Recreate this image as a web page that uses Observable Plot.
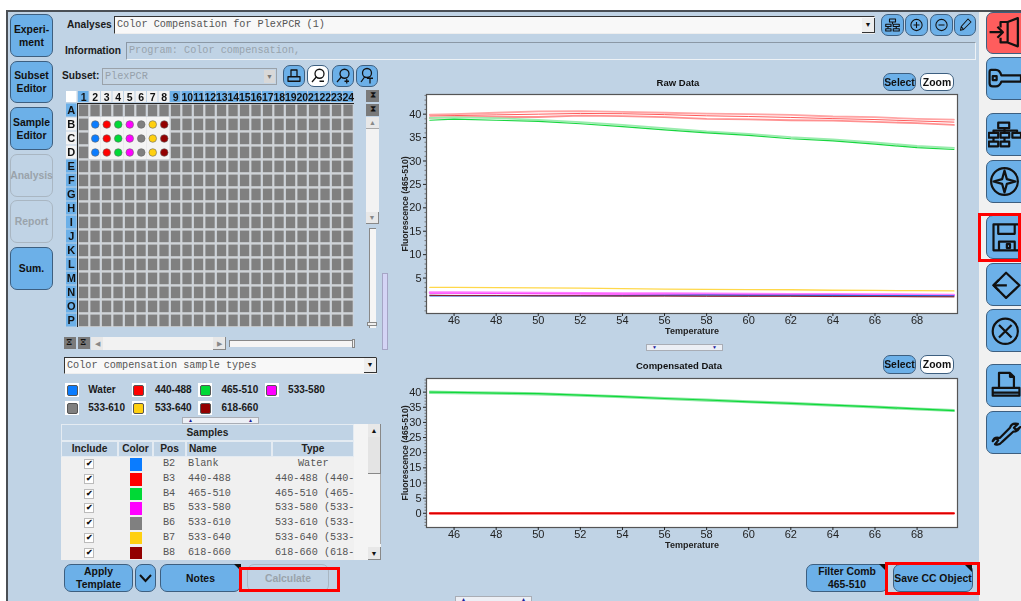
<!DOCTYPE html>
<html><head><meta charset="utf-8">
<script src="https://cdn.jsdelivr.net/npm/d3@7"></script>
<script src="https://cdn.jsdelivr.net/npm/@observablehq/plot@0.6"></script>
<style>
html,body{margin:0;padding:0;width:1021px;height:601px;overflow:hidden;background:#fff}
#app{position:absolute;left:0;top:0;width:1021px;height:601px;overflow:hidden;font-family:"Liberation Sans",Arial,sans-serif;filter:blur(.3px)}
.a{position:absolute;box-sizing:border-box}
.btn{position:absolute;box-sizing:border-box;background:#6cb0e8;border:1.5px solid #3d5f80;border-radius:7px;color:#111;font-weight:bold;font-size:10.4px;line-height:13px;text-align:center;display:flex;align-items:center;justify-content:center;white-space:nowrap}
.off{background:#c0d3e5;border-color:#a9b6c2;color:#9aa3ab}
.lbl{position:absolute;font-weight:bold;font-size:10.2px;color:#1a1a1a;white-space:nowrap}
.mono{font-family:"Liberation Mono",monospace;font-size:10.2px;color:#555;white-space:pre}
.inp{position:absolute;box-sizing:border-box;background:#f8f8f8;border-top:1.5px solid #333;border-left:1.5px solid #333;border-right:1px solid #eee;border-bottom:1px solid #eee;padding-left:2px;line-height:15px}
.arrow{position:absolute;box-sizing:border-box;background:#eee;border-right:1.5px solid #333;border-bottom:1.5px solid #333;color:#111;font-size:7px;text-align:center;line-height:13px}
.red{position:absolute;box-sizing:border-box;border:3px solid #f00;pointer-events:none;z-index:5}
.grip{position:absolute;box-sizing:border-box;background:#eceff5;border:1px solid #a9adb5;color:#1c1c9c;font-size:5px;line-height:5px;display:flex;justify-content:space-between;padding:0 5px;overflow:hidden}
.svgi svg{display:block}
</style></head><body><div id="app"></div>
<script>
// ---------- chart data ----------
const temperature = [44.85,46,48,50,52,54,56,58,60,62,64,66,68,69.75];
const rawRedTop   = [39.9,40.0,40.3,40.6,40.65,40.5,40.3,40.1,40.0,39.85,39.5,39.35,39.0,38.85];
const rawRedMid   = [39.6,39.7,39.85,40.0,40.15,40.1,39.9,39.65,39.5,39.3,39.05,38.85,38.55,38.3];
const rawRedLow   = [39.2,39.35,39.4,39.4,39.7,39.6,39.35,39.0,38.9,38.7,38.6,38.35,38.1,37.7];
const rawGreenTop = [39.2,39.3,39.15,38.8,38.3,37.7,37.0,36.3,35.8,35.1,34.6,33.95,33.2,32.8];
const rawGreenLow = [38.7,38.95,38.7,38.45,37.95,37.35,36.65,36.0,35.45,34.75,34.3,33.6,32.85,32.45];
const rawYellow   = [3.0,3.0,2.95,2.9,2.85,2.75,2.65,2.6,2.55,2.5,2.4,2.35,2.3,2.25];
const rawMagenta  = [1.9,1.9,1.85,1.8,1.75,1.7,1.7,1.65,1.6,1.55,1.55,1.5,1.45,1.4];
const rawGray     = [1.35,1.3,1.3,1.25,1.25,1.2,1.2,1.2,1.15,1.15,1.1,1.1,1.05,1.0];
const rawDarkRed  = [1.3,1.25,1.25,1.2,1.2,1.15,1.15,1.1,1.1,1.1,1.05,1.05,1.0,1.0];
const rawBlue     = [1.2,1.2,1.2,1.2,1.2,1.25,1.3,1.35,1.3,1.3,1.3,1.25,1.25,1.2];
const compGreenTop = [40.2,40.1,39.9,39.7,39.2,38.7,38.1,37.6,37.0,36.5,35.9,35.3,34.6,34.1];
const compGreenMid = [40.0,39.9,39.7,39.5,39.0,38.5,37.9,37.4,36.8,36.3,35.7,35.1,34.45,33.9];
const compGreenLow = [39.7,39.6,39.4,39.2,38.8,38.25,37.7,37.15,36.6,36.05,35.45,34.85,34.2,33.7];
const compRedLow  = [-0.35,-0.35,-0.35,-0.3,-0.3,-0.3,-0.3,-0.3,-0.3,-0.3,-0.3,-0.3,-0.3,-0.3];
const compRed     = [0,0,0,0,0,0,0,0,0,0,0,0,0,0];
const compDarkRed = [0,0,0,0,0,0,0,0,0,0,0,0,0,0];
const xTicks = [46,48,50,52,54,56,58,60,62,64,66,68];
const rawYTicks = [5,10,15,20,25,30,35,40];
const compYTicks = [0,5,10,15,20,25,30,35,40];
const rawMinor = [-2,-1,0,1,2,3,4,6,7,8,9,11,12,13,14,16,17,18,19,21,22,23,24,26,27,28,29,31,32,33,34,36,37,38,39,41,42,43,44];
const compMinor = [-4,-3,-2,-1,1,2,3,4,6,7,8,9,11,12,13,14,16,17,18,19,21,22,23,24,26,27,28,29,31,32,33,34,36,37,38,39,41,42,43,44];

const plateColumns = ["",...d3.range(1,25).map(String)];
const plateRows = ["","A","B","C","D","E","F","G","H","I","J","K","L","M","N","O","P"];
const usedColumns = ["2","3","4","5","6","7","8"];
const usedRows = ["B","C","D"];
const typeNames = ["Water","440-488","465-510","533-580","533-610","533-640","618-660"];
const typeColors = ["#0a7cff","#ff0000","#00d936","#ff00ff","#808080","#ffd010","#930000"];
const samplePos = ["B2","B3","B4","B5","B6","B7","B8"];
const sampleName = ["Blank","440-488","465-510","533-580","533-610","533-640","618-660"];
const sampleType = ["Water","440-488 (440-","465-510 (465-","533-580 (533-","533-610 (533-","533-640 (533-","618-660 (618-"];

// ---------- helpers ----------
const app = document.getElementById("app");
function el(html){const t=document.createElement("template");t.innerHTML=html.trim();const n=t.content.firstChild;app.appendChild(n);return n;}
function box(x,y,w,h,css="",cls="a",txt=""){return el(`<div class="${cls}" style="left:${x}px;top:${y}px;width:${w}px;height:${h}px;${css}">${txt}</div>`);}
function btn(x,y,w,h,txt,off,css=""){return box(x,y,w,h,css,"btn"+(off?" off":""),txt);}
function tag(x,y,w,h){box(x,y,w,h,"background:#111;clip-path:polygon(0 0,100% 0,100% 100%);");}
function lbl(x,y,txt,css=""){return el(`<div class="lbl" style="left:${x}px;top:${y}px;${css}">${txt}</div>`);}
const S=(vb,body,sw=1.6)=>`<svg class="i" viewBox="0 0 ${vb} ${vb}" width="100%" height="100%" fill="none" stroke="#111" stroke-width="${sw}" stroke-linejoin="round">${body}</svg>`;
const icons={
 exit:S(42,'<path d="M25 7 L38 2 V38 L25 33 Z M25 7 H16 V14 M16 27 V33 H25"/><path d="M2 20 H18 M12 13 L19 20 L12 27"/>',2.8),
 key:S(42,'<path d="M4 10 Q2 10 2 13 V27 Q2 31 6 31 H10 Q15 31 17 25 H42 V17 H17 Q15 10 10 10 Z"/><rect x="6" y="18" width="5" height="5"/>',2.8),
 net:S(42,'<rect x="13" y="6" width="14" height="7"/><rect x="1" y="19" width="12" height="6"/><rect x="16" y="19" width="11" height="6"/><rect x="31" y="19" width="11" height="6"/><rect x="1" y="30" width="12" height="6"/><rect x="16" y="30" width="11" height="6"/><path d="M21 13V19M7 19V16H37V19M7 25V30M21 25V30"/>',2.8),
 compass:S(42,'<circle cx="21" cy="21" r="17"/><path d="M21 7 L24 18 L35 21 L24 24 L21 35 L18 24 L7 21 L18 18 Z"/>',2.8),
 save:S(42,'<path d="M7 5 H41 V38 H7 Z M13 5 V17 H34 V5 M14 38 V27 H34 V38"/><rect x="24" y="30" width="4" height="5"/>',2.8),
 diamond:S(42,'<path d="M23 6 L40 22 L23 38 L7 22 Z"/><path d="M7 22 H24 M14 15 L7 22 L14 29"/>',2.8),
 x:S(42,'<circle cx="22" cy="22" r="16"/><path d="M14 14 L30 30 M30 14 L14 30"/>',2.8),
 print:S(42,'<path d="M14 5 H28 L33 10 V24 H14 Z M28 5 V10 H33 M6 24 H40 V34 H6 Z M6 30 H40"/>',2.8),
 wrench:S(42,'<path d="M6 32 L10 28 L13 31 L9 36 Q14 38 18 33 L32 20 Q38 20 41 14 L36 18 L33 15 L38 10 Q30 8 28 15 L15 28 Q8 26 6 32 Z"/>',2.8),
 tree:S(24,'<rect x="8" y="4" width="8" height="4"/><rect x="3" y="11" width="7" height="3"/><rect x="13" y="11" width="8" height="3"/><rect x="3" y="17" width="7" height="3"/><rect x="13" y="17" width="8" height="3"/><path d="M12 8V11M6 14V17M17 14V17"/>',1.5),
 plus:S(24,'<circle cx="12" cy="12" r="7.5"/><path d="M8 12H16M12 8V16"/>',1.4),
 minus:S(24,'<circle cx="12" cy="12" r="7.5"/><path d="M8 12H16"/>',1.4),
 pen:S(24,'<path d="M6 19 L7 14 L16 4 L20 8 L10 18 Z M7 14 L10 18"/>',1.4),
 printer:S(24,'<path d="M8 4H16V13H8ZM4 13H20V19H4Z"/>',1.7),
 zoomm:S(24,'<circle cx="14" cy="9" r="6"/><path d="M10 13 L4 20 M14 19H20"/>',1.7),
 zoomp:S(24,'<circle cx="14" cy="9" r="6"/><path d="M10 13 L4 20 M14 19H20M17 16V22"/>',1.7),
 zoomt:S(24,'<circle cx="12" cy="8" r="6"/><path d="M9 13 L4 20 M12 15H20M16 15V22"/>',1.7)
};
function iconBtn(x,y,w,h,name,css=""){return btn(x,y,w,h,`<div class="svgi" style="width:100%;height:100%">${icons[name]}</div>`,false,"padding:1px;"+css);}

// ---------- window chrome ----------
box(7,11,1014,590,"background:#c0d3e5");
box(979,12,42,589,"background:#f1f1f1");
box(6,10,1015,2,"background:#4a4f55");
box(6,10,2,591,"background:#4a4f55");

[["Experi-<br>ment",14,43,0],["Subset<br>Editor",61,42,0],["Sample<br>Editor",107,43,0],["Analysis",154,43,1],["Report",200,43,1],["Sum.",247,43,0]]
 .forEach(([t,y,h,o])=>btn(10,y,43,h,t,o));

lbl(67,19,"Analyses");
box(114,16,761,18,"","inp mono","Color Compensation for PlexPCR (1)");
box(862,18,13,15,"","arrow","▼");
iconBtn(881,14,23,22,"tree");iconBtn(905,14,23,22,"plus");iconBtn(930,14,23,22,"minus");iconBtn(954,14,22,22,"pen");

lbl(65,45,"Information");
box(126,42,850,18,"background:#c0d3e5;border:1px solid #eef2f6;border-top:1.5px solid #8b98a5;border-left:1.5px solid #8b98a5;color:#98a3ad","inp mono","Program: Color compensation,");

lbl(62,70,"Subset:");
box(102,68,175,17,"background:#c4d4e3;border:1.5px solid #9aa2aa;color:#96a1ab","inp mono","PlexPCR");
box(264,70,11,13,"background:#d8d8d8;color:#777;border:0","arrow","▼");
iconBtn(283,65,22,22,"printer");
iconBtn(307,65,22,22,"zoomm","background:#fff");
iconBtn(332,65,22,22,"zoomp");
iconBtn(356,65,22,22,"zoomt");

[["exit",12,42,"#ff5d5d"],["key",57,43],["net",113,43],["compass",160,43],["save",215,44],["diamond",263,43],["x",309,43],["print",364,43],["wrench",411,43]]
 .forEach(([n,y,h,c])=>iconBtn(986,y,50,h,n,"justify-content:flex-start;padding:1px 14px 1px 1px;"+(c?`background:${c};`:"")));
box(978,213,43,49,"","red");

// plate side scrollers
box(366,90,13,12,"background:#7a7a7a;color:#111;font-size:9px;line-height:11px;text-align:center","a","⧗");
box(366,104,13,12,"background:#7a7a7a;color:#111;font-size:9px;line-height:11px;text-align:center","a","⧗");
box(366,117,13,107,"background:#f2f2f2");
box(366,117,13,12,"background:#e8e8e8;border-bottom:1px solid #aaa;color:#888;font-size:7px;text-align:center;line-height:12px","a","▲");
box(366,212,13,12,"background:#e8e8e8;border-right:1px solid #888;border-bottom:1px solid #888;color:#888;font-size:7px;text-align:center;line-height:12px","a","▼");
box(369,228,7,100,"background:#f5f5f5;border-left:1.5px solid #888;border-top:1px solid #888");
box(367,322,10,4,"background:#eee;border:1px solid #888");
box(382,273,6,77,"background:#d4d4f5;border:1px solid #a5a5c5");
box(64,337,12,12,"background:#7a7a7a");box(78,337,12,12,"background:#7a7a7a");
lbl(65.5,336.5,"⧖","font-size:9px;color:#111;font-weight:normal");lbl(79.5,336.5,"⧖","font-size:9px;color:#111;font-weight:normal");
box(91,337,135,13,"background:#f2f2f2");
box(91,337,12,13,"background:#e8e8e8;color:#888;font-size:7px;text-align:center;line-height:13px","a","◀");
box(213,337,13,13,"background:#e8e8e8;border-right:1px solid #888;border-bottom:1px solid #888;color:#888;font-size:7px;text-align:center;line-height:13px","a","▶");
box(229,340,126,7,"background:#f5f5f5;border-left:1px solid #888;border-top:1.5px solid #888");
box(352,339,3,9,"background:#eee;border:1px solid #888");

box(64,357,313,17,"","inp mono","Color compensation sample types");
box(364,358,13,15,"","arrow","▼");

// legend of sample types
typeNames.forEach((t,i)=>{
  const row=i<4?0:1,col=i<4?i:i-4,x=65+col*66.6,y=383+row*18;
  box(x,y,14,14,"background:#fff");
  box(x+1.5,y+1.5,11,11,`background:${typeColors[i]};border-radius:2px;border:1px solid #555`);
  lbl(88.3+col*66.6,y+1,t,"font-size:10px");
});
box(182,417,77,7,"","grip","<span>▲</span><span>▲</span>");

// sample table
box(61,424,320,136,"background:#f0f0f0");
box(354,424,27,136,"background:#f4f4f4");
box(61,424,293,17,"background:#c0d3e5;border:1px solid #e4ebf2;text-align:center;font-weight:bold;font-size:10.2px;line-height:15px;color:#222","a","Samples");
[["Include",61,57],["Color",118,35],["Pos",153,33],["Name",186,86],["Type",272,82]].forEach(([t,x,w])=>
  box(x,441,w,16,`background:#c0d3e5;border:1px solid #e4ebf2;font-weight:bold;font-size:10.2px;line-height:14px;color:#222;text-align:${t==="Name"?"left;padding-left:2px":"center"}`,"a",t));
sampleName.forEach((n,i)=>{
  const yc=464.3+i*14.73;
  box(84,yc-5,10,10,"background:#fff;border:1px solid #bbb;font-size:8px;line-height:8px;text-align:center;color:#111;font-weight:bold","a","✔");
  box(129.5,yc-6,12.5,12.5,`background:${typeColors[i]}`);
  el(`<div class="a mono" style="left:163px;top:${yc-6}px">${samplePos[i]}</div>`);
  el(`<div class="a mono" style="left:188px;top:${yc-6}px">${n}</div>`);
  el(`<div class="a mono" style="left:${i===0?298:275}px;top:${yc-6}px">${sampleType[i]}</div>`);
});
box(368,424,13,13,"background:#e8e8e8;border-right:1px solid #888;color:#111;font-size:7px;text-align:center;line-height:13px","a","▲");
box(368,437,13,107,"background:#f4f4f4;border-right:1px solid #aaa");
box(368,437,13,37,"background:#e4e4e4;border-right:1px solid #888;border-bottom:1px solid #888");
box(368,547,13,13,"background:#e8e8e8;border-right:1px solid #888;border-bottom:1px solid #888;color:#111;font-size:7px;text-align:center;line-height:13px","a","▼");

// bottom buttons
btn(64,564,69,28,"Apply<br>Template");
btn(135,564,21,28,`<svg width="13" height="9" viewBox="0 0 13 9"><path d="M1 1 L6.5 7 L12 1" fill="none" stroke="#111" stroke-width="2"/></svg>`);
btn(160,564,81,28,"Notes");tag(234,564,7,7);
btn(247,564,82,28,"Calculate",true);
box(239,567,101,25,"","red");
btn(806,564,82,28,"Filter Comb<br>465-510");tag(879,564,8,8);
btn(893,564,80,28,"Save CC Object");tag(964,564,8,8);
box(885,562,95,33,"","red");

// chart headers
lbl(0,77,"Raw Data","width:1356px;text-align:center;font-size:9.5px;color:#111");
btn(883,73,33,18,"Select");
btn(920,73,34,18,"Zoom",false,"background:#fff");
box(646,344,77,7,"","grip","<span>▼</span><span>▼</span>");
lbl(0,360,"Compensated Data","width:1358px;text-align:center;font-size:9.5px;color:#111");
btn(883,355,33,19,"Select");
btn(920,355,34,19,"Zoom",false,"background:#fff");
box(455,596,77,7,"","grip","<span>▲</span><span>▲</span>");

// ---------- well plate, drawn with Plot ----------
const usedCells = usedRows.flatMap(r=>usedColumns.map(c=>({r,c})));
const wells = usedRows.flatMap(r=>usedColumns.map((c,i)=>({r,c,color:typeColors[i]})));
const gridCells = plateRows.slice(1).flatMap(r=>plateColumns.slice(1).map(c=>({r,c})));
const columnHeads = plateColumns.slice(1).map(c=>({c,on:usedColumns.includes(c)}));
const rowHeads = plateRows.slice(1).map(r=>({r,on:usedRows.includes(r)}));
const plate = Plot.plot({
  width:287.5,height:238,margin:0,
  x:{type:"band",domain:plateColumns,padding:0,round:false,axis:null},
  y:{type:"band",domain:plateRows,padding:0,round:false,axis:null},
  style:{background:"transparent",overflow:"visible",fontFamily:"Liberation Sans Narrow, Liberation Sans",fontSize:"11px"},
  marks:[
    Plot.cell(gridCells,{x:"c",y:"r",fill:"#d0d4d8"}),
    Plot.cell(gridCells,{x:"c",y:"r",fill:"#808080",insetLeft:1.4,insetTop:1.6,insetRight:.8,insetBottom:.8}),
    Plot.cell(usedCells,{x:"c",y:"r",fill:"#f4f4f4"}),
    Plot.dot(wells,{x:"c",y:"r",r:3.8,fill:"color",stroke:"#666",strokeWidth:.6}),
    Plot.cell(columnHeads,{x:"c",y:()=>"",fill:d=>d.on?"#f2f2f2":"#6cb0e8",insetTop:2,insetBottom:1,insetLeft:.5,insetRight:.5}),
    Plot.cell(rowHeads,{x:()=>"",y:"r",fill:d=>d.on?"#f2f2f2":"#6cb0e8",insetLeft:0,insetRight:1,insetTop:.5,insetBottom:.5}),
    Plot.text(columnHeads,{x:"c",y:()=>"",text:"c",fontWeight:"bold",fontSize:10.5,fill:"#111",textAnchor:"middle",dy:1}),
    Plot.text(rowHeads,{x:()=>"",y:"r",text:"r",fontWeight:"bold",fontSize:11,fill:"#111",dx:-1}),
    Plot.cell([{}],{x:()=>"",y:()=>"",fill:"#fff",insetTop:2,insetBottom:1,insetRight:1})
  ]
});
plate.style.position="absolute";plate.style.left="65.5px";plate.style.top="89px";
app.appendChild(plate);
box(76.5,102.5,277,1.6,"background:#222");
box(76.5,102.5,1.6,224,"background:#222");

// ---------- the two curve charts ----------
function series(name,values,color,width,opacity){return temperature.map((t,i)=>({name,t,v:values[i],color,width,opacity}));}
function curves(rows,yDomain,yTicks,minor,height,left,top){
  const font={fontFamily:'"Liberation Sans Narrow","Liberation Sans"',fontSize:"11px"};
  const lineSets=d3.groups(rows,d=>d.name).map(([n,r])=>Plot.line(r,{x:"t",y:"v",stroke:r[0].color,strokeWidth:r[0].width,strokeOpacity:r[0].opacity}));
  const p=Plot.plot({
    width:574,height,marginLeft:40,marginRight:3,marginTop:6,marginBottom:30,
    x:{domain:[44.69,69.92],axis:null},
    y:{domain:yDomain,axis:null},
    style:{background:"transparent",overflow:"visible",color:"#222",...font},
    marks:[
      Plot.frame({fill:"#fff"}),
      ...lineSets,
      Plot.frame({stroke:"#555",strokeWidth:1.2}),
      Plot.axisX({ticks:xTicks,tickSize:3,tickPadding:0,label:null,tickFormat:d=>d}),
      Plot.axisY({ticks:yTicks,tickSize:3,tickPadding:2,label:null,tickFormat:d=>d}),
      Plot.axisY({ticks:minor,tickSize:1.5,label:null,tickFormat:()=>"",stroke:"#777"}),
      Plot.axisX({ticks:[],label:"Temperature",labelAnchor:"center",labelArrow:"none",labelOffset:20.5,fontWeight:"bold",fontSize:9,fontFamily:"Liberation Sans"}),
      Plot.axisY({ticks:[],label:"Fluorescence (465-510)",labelAnchor:"center",labelArrow:"none",labelOffset:25,fontWeight:"bold",fontSize:8.6,fontFamily:"Liberation Sans"})
    ]
  });
  p.style.position="absolute";p.style.left=left+"px";p.style.top=top+"px";
  app.appendChild(p);
}
curves([
  ...series("yellow",rawYellow,"#ffd84a",1.3,1),
  ...series("magenta",rawMagenta,"#ff80ff",2.4,1),
  ...series("magenta2",rawMagenta.map(v=>v-.15),"#ff30ff",1,.8),
  ...series("blue",rawBlue,"#1f6fe0",1.2,1),
  ...series("gray",rawGray,"#666",1,.8),
  ...series("darkred",rawDarkRed,"#8e1020",1,.9),
  ...series("redTop",rawRedTop,"#ffa4a4",1.8,1),
  ...series("redMid",rawRedMid,"#ff5a5a",1,1),
  ...series("redLow",rawRedLow,"#ff9090",1.8,1),
  ...series("greenTop",rawGreenTop,"#9aecae",1.8,1),
  ...series("greenLow",rawGreenLow,"#19d640",1.2,1)
],[-2.57,44.2],rawYTicks,rawMinor,255,386,88);
curves([
  ...series("compRedLow",compRedLow,"#ffa0a0",1.2,1),
  ...series("compRed",compRed,"#ff0000",2,1),
  ...series("compDarkRed",compDarkRed,"#c00000",.8,1),
  ...series("compGreenTop",compGreenTop,"#8be9a2",1.8,1),
  ...series("compGreenLow",compGreenLow,"#8be9a2",1.8,1),
  ...series("compGreenMid",compGreenMid,"#10d83a",1.2,1)
],[-4.7,44.5],compYTicks,compMinor,185,386,371.7);
</script></body></html>
